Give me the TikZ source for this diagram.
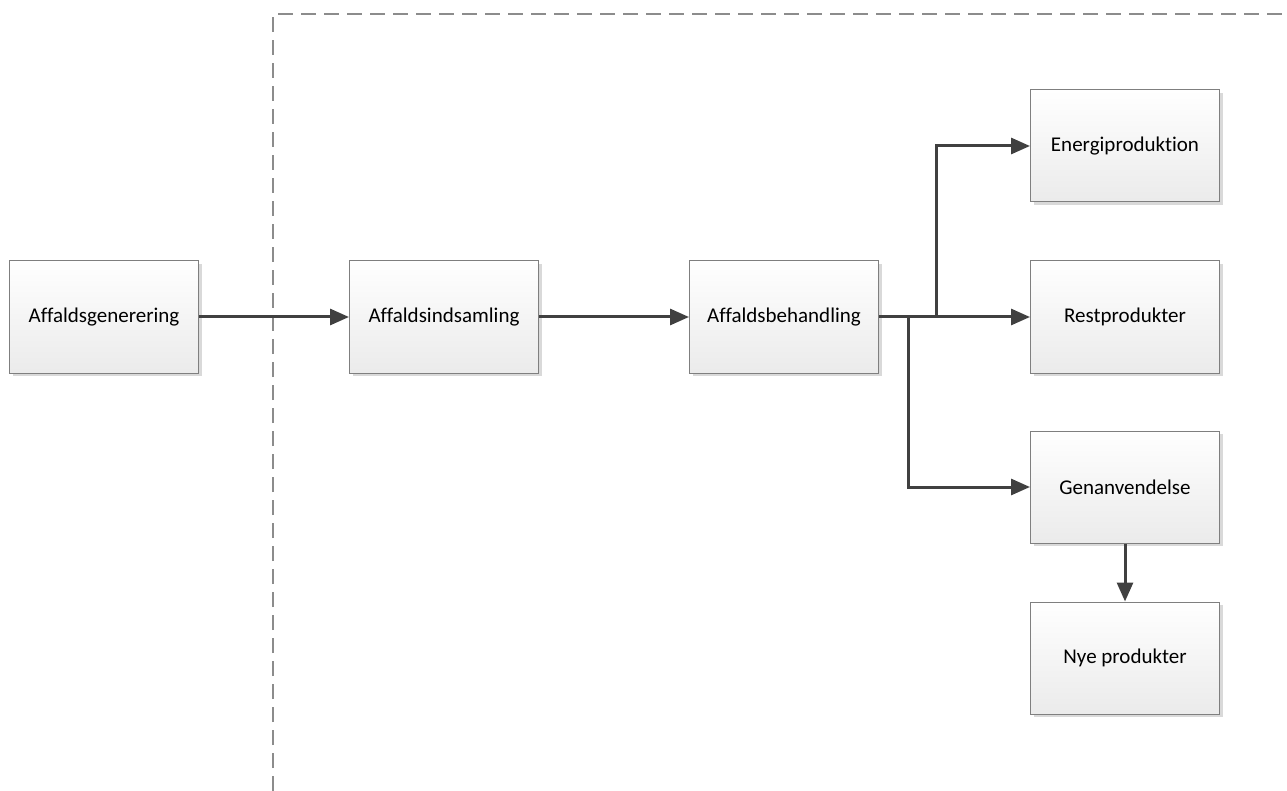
\documentclass[tikz,border=0pt]{standalone}
\usepackage{fontspec}
\setmainfont{Carlito}[Ligatures=NoCommon]
\usetikzlibrary{arrows.meta,shadows}
\definecolor{linec}{HTML}{404040}
\definecolor{boxline}{HTML}{7F7F7F}
\definecolor{dashc}{HTML}{8C8C8C}
\tikzset{
  box/.style={draw=boxline, line width=1pt, rectangle, minimum width=189pt, minimum height=112pt,
    top color=white, bottom color=black!8, inner sep=0pt,
    font=\fontsize{21}{25}\selectfont, text=black,
    drop shadow={shadow xshift=3pt, shadow yshift=-3pt, fill=black!15, opacity=1}},
  conn/.style={draw=linec, line width=3pt, -{Triangle[length=19pt,width=16pt]}},
  boundary/.style={draw=dashc, line width=1.2pt, dash pattern=on 15pt off 8pt}
}
\begin{document}
\begin{tikzpicture}[x=1pt,y=1pt]
\useasboundingbox (0,0) rectangle (1287,-791);
\coordinate (dtop) at (273,-14);
\coordinate (dbot) at (273,-791);
\coordinate (dright) at (1287,-14);
\draw[boundary] (dbot) -- (dtop) -- (dright);

\node[box] (gen) at (104,-317) {Affaldsgenerering};
\node[box] (ind) at (444,-317) {Affaldsindsamling};
\node[box] (beh) at (784,-317) {Affaldsbehandling};
\node[box] (ene) at (1125,-146) {Energiproduktion};
\node[box] (rest) at (1125,-317) {Restprodukter};
\node[box] (gena) at (1125,-487) {Genanvendelse};
\node[box] (nye) at (1125,-658) {Nye produkter};

\coordinate (j2) at (908,-317);
\coordinate (j1) at (936,-317);

\draw[conn] (gen.east) -- (ind.west);
\draw[conn] (ind.east) -- (beh.west);
\draw[conn] (beh.east) -- (rest.west);
\draw[conn] (j1) |- (ene.west);
\draw[conn] (j2) |- (gena.west);
\draw[conn] (gena.south) -- (nye.north);
\end{tikzpicture}
\end{document}
